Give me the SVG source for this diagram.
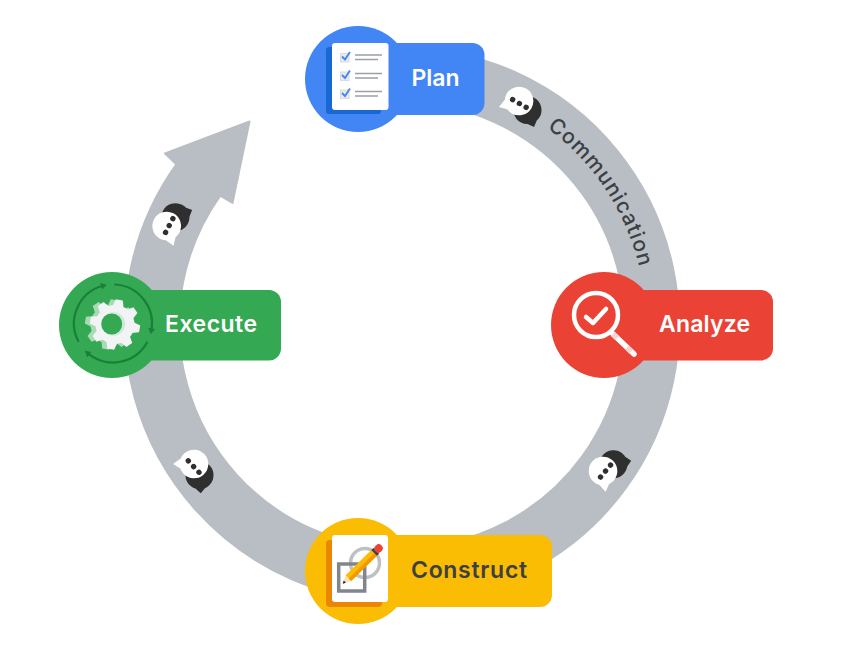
<svg xmlns="http://www.w3.org/2000/svg" width="852" height="670" viewBox="0 0 852 670">
<style>
.lbl{font-family:"Inter","Noto Sans",sans-serif;font-weight:600;font-size:23px}
.sp{letter-spacing:.5px}
.comm{font-family:"Inter","Noto Sans",sans-serif;font-weight:500;font-size:21px;letter-spacing:1px;fill:#3c4043}
.w{fill:#fff}.d{fill:#3c4043}
.sheet{fill:#fff}
.ln{stroke:#9aa0a6;stroke-width:1.6;fill:none}
.cb{fill:#e8eaed;stroke:#dadce0;stroke-width:1}
.ck{fill:none;stroke:#4285f4;stroke-width:1.8}
.arc{fill:none;stroke:#188038;stroke-width:2.2;marker-end:url(#ah)}
</style>
<defs>
<marker id="ah" markerWidth="7" markerHeight="8" refX="2" refY="4" orient="auto" markerUnits="userSpaceOnUse"><path d="M0 0.500L6 4L0 7.500Z" fill="#188038"/></marker>
<g id="bubble">
<circle cx="11.900" cy="3.600" r="14" fill="#2f2f2f"/><path d="M18.900 15.700L26 15L25.100 7.900Z" fill="#2f2f2f"/>
<circle r="14.300" fill="#fff"/><path d="M-13 6L-14.300 15.300L-5.500 13Z" fill="#fff"/>
<circle cx="-6.200" cy="2" r="2.700" fill="#2f2f2f"/><circle cx="1.600" cy="2" r="2.700" fill="#2f2f2f"/><circle cx="9.400" cy="2" r="2.700" fill="#2f2f2f"/>
</g>
<path id="t" d="M-5.500 -18L-3.500 -25H3.500L5.500 -18Z"/>
<g id="gear"><circle r="19.500"/>
<use href="#t" transform="rotate(10)"/><use href="#t" transform="rotate(55)"/><use href="#t" transform="rotate(100)"/><use href="#t" transform="rotate(145)"/><use href="#t" transform="rotate(190)"/><use href="#t" transform="rotate(235)"/><use href="#t" transform="rotate(280)"/><use href="#t" transform="rotate(325)"/></g>
<path id="commPath" d="M526 114A244 244 0 0 1 646 325"/>
</defs>
<g id="connectors">
<path id="ring" fill="#b8bec3" stroke="#b8bec3" stroke-width="2" stroke-linejoin="round" d="M402 48A277 277 0 1 1 176.300 164.300L165 153.500L249.500 121.500L232.500 203L220.300 195.600A223 223 0 1 0 402 102Z"/>
<use href="#bubble" transform="translate(519 101) rotate(30)"/>
<use href="#bubble" transform="translate(603 471) rotate(-50)"/>
<use href="#bubble" transform="translate(194 464) rotate(47)"/>
<use href="#bubble" transform="translate(166.700 226) rotate(-62)"/>
<text class="comm"><textPath href="#commPath" startOffset="25">Communication</textPath></text>
</g>
<g id="node-plan">
<circle cx="358" cy="79" r="53" fill="#4285f4"/><rect x="358" y="43" width="126.500" height="72" rx="12" fill="#4285f4"/>
<rect x="326" y="47" width="55" height="67" rx="3" fill="#1967d2"/><rect class="sheet" x="332" y="43" width="56.500" height="67" rx="3"/>
<rect class="cb" x="340.500" y="53.500" width="8.500" height="8.500"/><path class="ck" d="M342 56.500L345 59.500L350 52"/><path class="ln" d="M355 55H382M355 59.500H378"/>
<rect class="cb" x="340.500" y="72" width="8.500" height="8.500"/><path class="ck" d="M342 75L345 78L350 70.500"/><path class="ln" d="M355 73.500H382M355 78H378"/>
<rect class="cb" x="340.500" y="90" width="8.500" height="8.500"/><path class="ck" d="M342 93L345 96L350 88.500"/><path class="ln" d="M355 91.500H382M355 96H378"/>
<text class="lbl w" x="411.500" y="86">Plan</text>
</g>
<g id="node-analyze">
<circle cx="604" cy="325" r="53" fill="#ea4335"/><rect x="604" y="290" width="169" height="70.500" rx="12" fill="#ea4335"/>
<circle cx="596" cy="315" r="22" fill="none" stroke="#fff" stroke-width="4.500"/>
<path d="M586 317L593 323L606 309" fill="none" stroke="#fff" stroke-width="4.500" stroke-linecap="round" stroke-linejoin="round"/>
<path d="M613 334L634 354" stroke="#fff" stroke-width="5.500" stroke-linecap="round"/>
<path d="M613 334L617 338M627 347.500L631 351.500" stroke="#fad2cf" stroke-width="5.500"/>
<text class="lbl w" x="659" y="332" style="letter-spacing:.2px">Analyze</text>
</g>
<g id="node-construct">
<circle cx="358" cy="571" r="53" fill="#fbbc04"/><rect x="358" y="535" width="194" height="72" rx="12" fill="#fbbc04"/>
<rect x="326" y="540" width="56" height="67" rx="4" fill="#ea8600"/><rect class="sheet" x="332" y="535" width="56" height="67" rx="3"/>
<circle cx="365" cy="563" r="14.500" fill="none" stroke="#bdc1c6" stroke-width="3.500"/>
<rect x="338.700" y="564" width="26" height="27" fill="none" stroke="#80868b" stroke-width="3.500"/>
<g transform="translate(342.700 583.700) rotate(-44.500)">
<path d="M0 0L8 -4V4Z" fill="#f6e3b4"/><path d="M0 0L3 -1.500V1.500Z" fill="#202124"/>
<rect x="8" y="-4" width="36" height="8" fill="#fbbc04"/><rect x="8" y="0.500" width="36" height="3.500" fill="#f29900"/>
<rect x="44" y="-4" width="3" height="8" fill="#3c4043"/><rect x="46" y="-4" width="8.500" height="8" rx="4" fill="#ea4335"/>
</g>
<text class="lbl d" x="411" y="578" style="letter-spacing:.7px">Construct</text>
</g>
<g id="node-execute">
<circle cx="112" cy="325" r="53" fill="#34a853"/><rect x="112" y="290" width="169" height="70.500" rx="12" fill="#34a853"/>
<path class="arc" d="M78.600 341.800A39 39 0 0 1 102.900 285.800"/>
<path class="arc" d="M114.400 284.500A39 39 0 0 1 151.400 330.300"/>
<path class="arc" d="M147.400 341.800A39 39 0 0 1 87.900 353.400"/>
<use href="#gear" transform="translate(110 324.500)" fill="#a8dab5"/>
<use href="#gear" transform="translate(115 324.500)" fill="#f1f3f4"/>
<circle cx="113.500" cy="324" r="11.700" fill="#ceead6"/><circle cx="111.700" cy="324" r="10.500" fill="#34a853"/>
<text class="lbl w sp" x="165" y="332">Execute</text>
</g>
</svg>
